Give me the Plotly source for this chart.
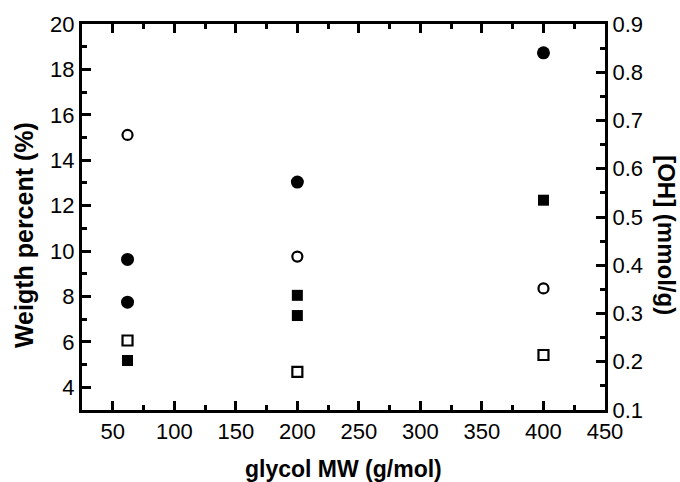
import plotly.graph_objects as go

# Data (glycol MW in g/mol)
x_fc = [62, 62, 200, 400]
y_fc = [9.63, 7.75, 13.04, 18.73]          # filled circles, weight percent
x_fs = [62, 200, 200, 400]
y_fs = [5.18, 8.05, 7.16, 12.24]           # filled squares, weight percent
x_oc = [62, 200, 400]
y_oc = [0.670, 0.418, 0.352]               # open circles, [OH] mmol/g
x_os = [62, 200, 400]
y_os = [0.244, 0.179, 0.214]               # open squares, [OH] mmol/g

x_ticks = [50, 100, 150, 200, 250, 300, 350, 400, 450]
y_ticks = [4, 6, 8, 10, 12, 14, 16, 18, 20]
y2_ticks = [0.1, 0.2, 0.3, 0.4, 0.5, 0.6, 0.7, 0.8, 0.9]

FONT = "Liberation Sans, Arial, sans-serif"

fig = go.Figure()
fig.add_trace(go.Scatter(x=x_fc, y=y_fc, mode="markers",
                         marker=dict(symbol="circle", size=13, color="black"),
                         showlegend=False))
fig.add_trace(go.Scatter(x=x_fs, y=y_fs, mode="markers",
                         marker=dict(symbol="square", size=11, color="black"),
                         showlegend=False))
fig.add_trace(go.Scatter(x=x_oc, y=y_oc, mode="markers", yaxis="y2",
                         marker=dict(symbol="circle-open", size=10, color="black",
                                     line=dict(width=2.2, color="black")),
                         showlegend=False))
fig.add_trace(go.Scatter(x=x_os, y=y_os, mode="markers", yaxis="y2",
                         marker=dict(symbol="square-open", size=10, color="black",
                                     line=dict(width=2.2, color="black")),
                         showlegend=False))

axis_common = dict(showgrid=False, zeroline=False, showline=True,
                   linecolor="black", linewidth=3,
                   ticks="inside", ticklen=9, tickwidth=3, tickcolor="black",
                   tickfont=dict(family=FONT, size=22, color="black"))

fig.update_layout(
    width=680, height=482,
    margin=dict(l=82, r=75, t=24, b=72),
    paper_bgcolor="white", plot_bgcolor="white",
    xaxis=dict(range=[25, 450], tickvals=x_ticks, mirror="ticks",
               minor=dict(dtick=25, ticks="inside", ticklen=5, tickwidth=3, tickcolor="black"),
               **axis_common),
    yaxis=dict(range=[3, 20], tickvals=y_ticks,
               minor=dict(dtick=1, ticks="inside", ticklen=5, tickwidth=3, tickcolor="black"),
               **axis_common),
    yaxis2=dict(range=[0.1, 0.9], tickvals=y2_ticks, overlaying="y", side="right",
                minor=dict(dtick=0.05, ticks="inside", ticklen=5, tickwidth=3, tickcolor="black"),
                **axis_common),
    annotations=[
        dict(text="<b>glycol MW (g/mol)</b>", xref="paper", yref="paper",
             x=0.5, y=-0.154, xanchor="center", yanchor="middle", showarrow=False,
             font=dict(family=FONT, size=23, color="black")),
        dict(text="<b>Weigth percent (%)</b>", xref="paper", yref="paper",
             x=-0.111, y=0.453, xanchor="center", yanchor="middle", showarrow=False,
             textangle=-90, font=dict(family=FONT, size=25, color="black")),
        dict(text="<b>[OH] (mmol/g)</b>", xref="paper", yref="paper",
             x=1.1185, y=0.453, xanchor="center", yanchor="middle", showarrow=False,
             textangle=90, font=dict(family=FONT, size=24, color="black")),
    ],
)

fig.write_html("out.html")
